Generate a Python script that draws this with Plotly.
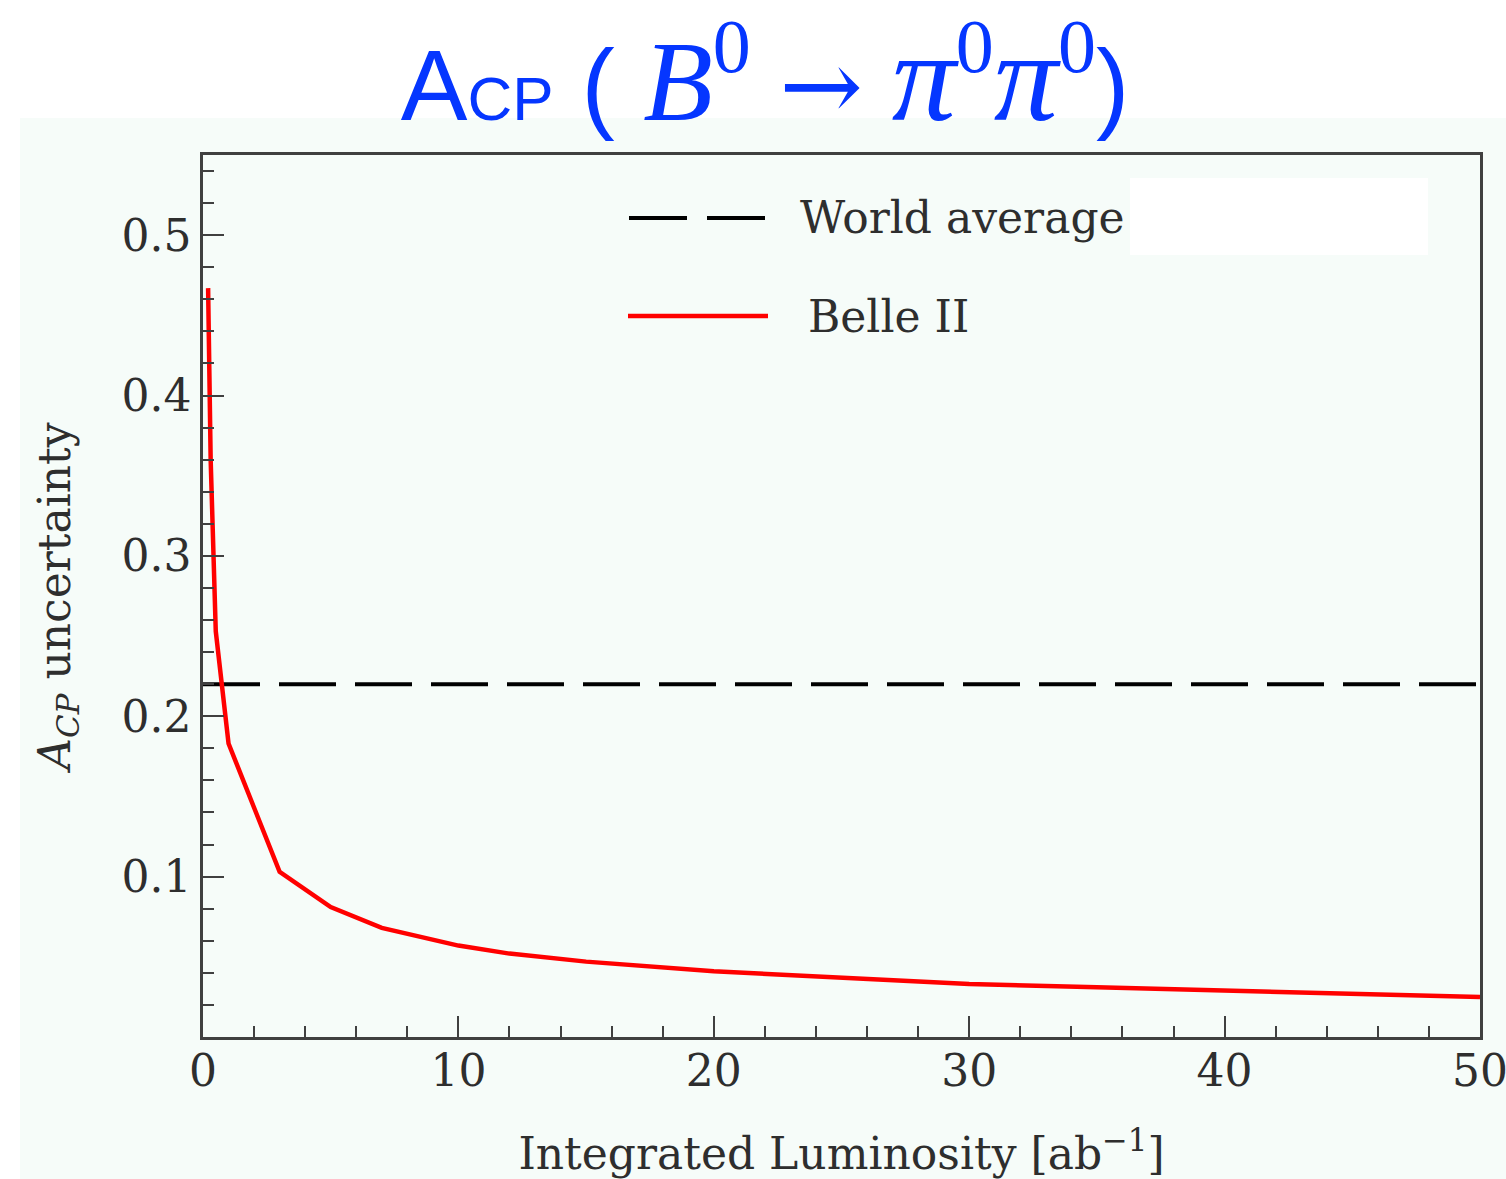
import plotly.graph_objects as go

# ---- data ----
lumi = [0.2, 0.3, 0.5, 1, 3, 5, 7, 10, 12, 15, 20, 25, 30, 35, 40, 45, 50]
belle2 = [0.467, 0.36, 0.253, 0.183, 0.103, 0.081, 0.068, 0.057, 0.052, 0.047,
          0.041, 0.037, 0.033, 0.031, 0.029, 0.027, 0.025]
world_x = [0, 50]
world_avg = [0.22, 0.22]
x_ticks = [0, 10, 20, 30, 40, 50]
y_ticks = [0.1, 0.2, 0.3, 0.4, 0.5]
legend_names = ["World average", "Belle II"]

W, H = 1506, 1179
L, R, T, B = 203, 1480, 155, 1037
PW, PH = R - L, B - T

def px(x):
    return (x - L) / PW

def py(y):
    return (B - y) / PH

MINT = "#f6fcf9"
TXT = "#2e2e2e"
FONT = "DejaVu Serif"
FS = 44

fig = go.Figure()
fig.add_trace(go.Scatter(x=world_x, y=world_avg, mode="lines", name=legend_names[0],
                         line=dict(color="black", width=4, dash="57px,19px"),
                         showlegend=False))
fig.add_trace(go.Scatter(x=lumi, y=belle2, mode="lines", name=legend_names[1],
                         line=dict(color="#ff0000", width=4.5), showlegend=False))

shapes = [
    # mint background block
    dict(type="rect", xref="paper", yref="paper", x0=px(20), x1=px(1520), y0=py(1220), y1=py(118),
         fillcolor=MINT, line=dict(width=0), layer="below"),
    # white patch near legend
    dict(type="rect", xref="paper", yref="paper", x0=px(1130), x1=px(1428), y0=py(255), y1=py(178),
         fillcolor="white", line=dict(width=0), layer="above"),
    # legend keys
    dict(type="line", xref="paper", yref="paper", x0=px(629), x1=px(766), y0=py(218), y1=py(218),
         line=dict(color="black", width=4, dash="58px,20px")),
    dict(type="line", xref="paper", yref="paper", x0=px(628), x1=px(768), y0=py(316), y1=py(316),
         line=dict(color="#ff0000", width=4.5)),
]

annotations = [
    dict(text=legend_names[0], xref="paper", yref="paper", x=px(798), y=py(218),
         xanchor="left", yanchor="middle", showarrow=False,
         font=dict(family=FONT, size=FS, color=TXT)),
    dict(text=legend_names[1], xref="paper", yref="paper", x=px(806), y=py(316),
         xanchor="left", yanchor="middle", showarrow=False,
         font=dict(family=FONT, size=FS, color=TXT)),
]

PI = "<span style='font-size:128px'><i>π</i></span>"
SUP = "<sup><span style='font-size:76px'>0</span></sup>"
title_text = ("<span style='font-family:Liberation Sans;font-size:100px'>A<span style='font-size:62px'>CP</span> (</span>"
              " <i>B</i>" + SUP + " <span style='font-family:DejaVu Serif;font-size:100px'>→</span> "
              + PI + SUP + PI + SUP +
              "<span style='font-family:Liberation Sans;font-size:100px'>)</span>")

fig.update_layout(
    width=W, height=H,
    margin=dict(l=L, r=W - R, t=T, b=H - B, pad=0, autoexpand=False),
    paper_bgcolor="white", plot_bgcolor=MINT,
    title=dict(text=title_text, xref="container", x=765 / W, xanchor="center",
               yref="container", y=1 - 80 / H, yanchor="middle", automargin=False,
               font=dict(family="Liberation Serif", size=114, color="#0536ff")),
    shapes=shapes, annotations=annotations,
    showlegend=False,
)

axis_common = dict(showgrid=False, zeroline=False, showline=True, mirror=True,
                   linecolor="#404040", linewidth=2.5, automargin=False,
                   ticks="inside", ticklen=21, tickwidth=2, tickcolor="#404040",
                   tickfont=dict(family=FONT, size=FS, color=TXT))

fig.update_xaxes(range=[0, 50], tickmode="array", tickvals=x_ticks,
                 ticktext=[str(v) for v in x_ticks],
                 minor=dict(dtick=2, tick0=0, ticks="inside", ticklen=11, tickwidth=2,
                            tickcolor="#404040", showgrid=False),
                 title=dict(text="Integrated Luminosity [ab<sup>−1</sup>]", standoff=58,
                            font=dict(family=FONT, size=FS, color=TXT)),
                 ticklabelstandoff=-7, ticklabeloverflow="allow",
                 **axis_common)
fig.update_yaxes(range=[0, 0.55], tickmode="array", tickvals=y_ticks,
                 ticktext=[f"{v:.1f}" for v in y_ticks],
                 minor=dict(dtick=0.02, tick0=0, ticks="inside", ticklen=11, tickwidth=2,
                            tickcolor="#404040", showgrid=False),
                 title=dict(text="<i>A</i><sub><i>CP</i></sub> uncertainty", standoff=38,
                            font=dict(family=FONT, size=FS, color=TXT)),
                 ticklabelstandoff=0,
                 **axis_common)

fig.write_html("out.html")
